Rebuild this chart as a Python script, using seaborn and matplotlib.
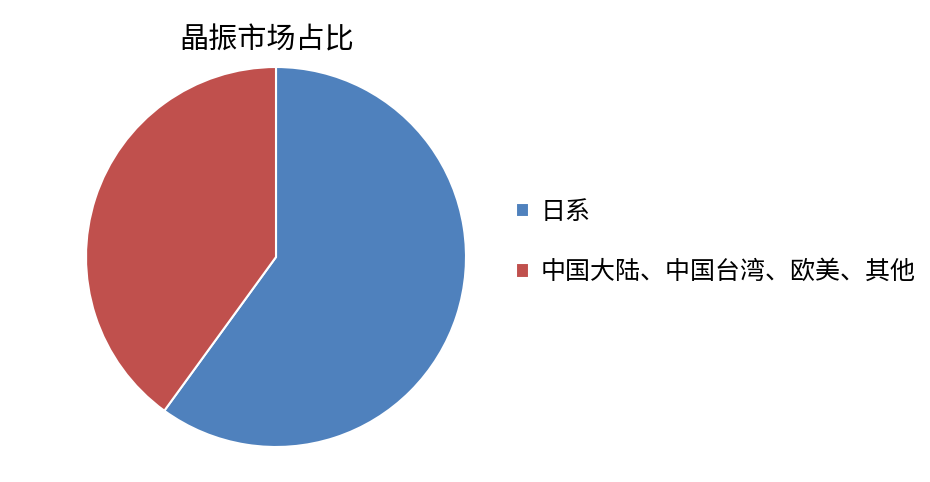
import matplotlib
matplotlib.use('Agg')
import matplotlib.pyplot as plt
import seaborn as sns

# Data
labels = ['日系', '中国大陆、中国台湾、欧美、其他']
shares = [60, 40]
colors = ['#4F81BD', '#C0504D']

sns.set_theme(style='white')
plt.rcParams['font.family'] = ['Noto Sans CJK SC', 'DejaVu Sans']

fig = plt.figure(figsize=(9.3, 4.82), dpi=100)
ax = fig.add_axes([86 / 930, 35 / 482, 380 / 930, 380 / 482])

wedges, _ = ax.pie(shares, colors=colors, startangle=90, counterclock=False,
                   wedgeprops={'edgecolor': 'white', 'linewidth': 1.5})
ax.set_xlim(-1.0, 1.0)
ax.set_ylim(-1.0, 1.0)
ax.set_aspect('equal')

fig.text(267 / 930, 1 - 40 / 482, '晶振市场占比', ha='center', va='center',
         fontsize=21, color='black')

leg = fig.legend(wedges, labels, loc='center left', bbox_to_anchor=(516 / 930, 1 - 242 / 482),
                 frameon=False, fontsize=18, labelspacing=1.38, handlelength=0.5,
                 handleheight=0.5, handletextpad=0.5, borderaxespad=0, borderpad=0)
for t in leg.get_texts():
    t.set_color('black')

fig.savefig('out.png', dpi=100, facecolor='white')
